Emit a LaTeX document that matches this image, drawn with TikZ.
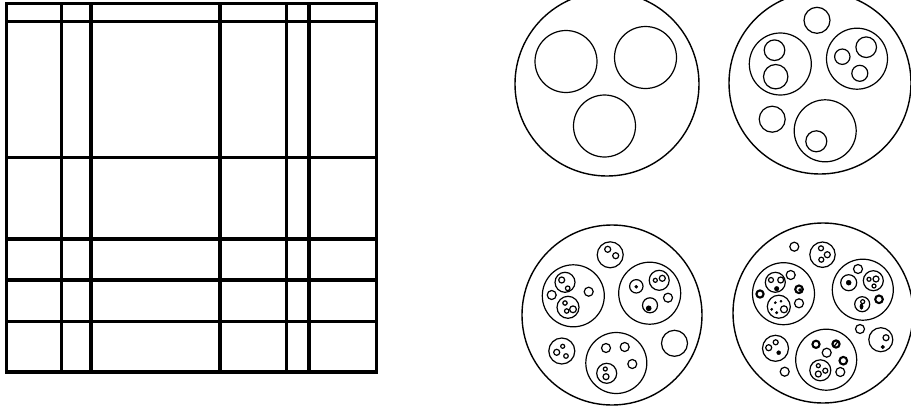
\documentclass[tikz,border=0pt]{standalone}
\begin{document}
\begin{tikzpicture}[x=1pt,y=-1pt,
  gridline/.style={line width=3.3pt,line cap=rect},
  big/.style={line width=1.4pt},
  ring/.style={line width=1.2pt},
  thickring/.style={line width=2.1pt},
  dot/.style={fill=black}]
\useasboundingbox (0,0) rectangle (911,407);
\fill[white] (0,0) rectangle (911,407);
\clip (0,0) rectangle (911,407);
% ---- grid ----
\draw[gridline] (6.7,3.3) rectangle (376.7,372);
\foreach \xx in {61.7,91,220,286.7,309}
  \draw[gridline] (\xx,3.3) -- (\xx,372);
\foreach \yy in {21.7,157.7,239,280,321.7}
  \draw[gridline] (6.7,\yy) -- (376.7,\yy);
% ---- circle 1 (top left) ----
\draw[big] (607,84) circle (92);
\draw[ring] (566,61.5) circle (31);
\draw[ring] (645.5,57.5) circle (31);
\draw[ring] (604.5,126) circle (31);
% ---- circle 2 (top right) ----
\draw[big] (820,83) circle (91);
\draw[ring] (817,20.3) circle (13);
\draw[ring] (780.3,64) circle (31);
\draw[ring] (774.5,50.2) circle (10.3);
\draw[ring] (775.7,76.7) circle (12.2);
\draw[ring] (857,58.7) circle (30.5);
\draw[ring] (842.3,56.7) circle (7.7);
\draw[ring] (866.2,47.2) circle (10.3);
\draw[ring] (859.8,73.3) circle (8);
\draw[ring] (772.2,119.2) circle (13);
\draw[ring] (825.2,130.8) circle (31);
\draw[ring] (816.3,141.3) circle (10.5);
% ---- circle 3 (bottom left) ----
\draw[big] (612,315) circle (90);
\draw[ring] (610.2,254.8) circle (13);
\draw[ring] (607.7,249.3) circle (3);
\draw[ring] (615.7,255.7) circle (3);
\draw[ring] (573.3,295.8) circle (31);
\draw[ring] (565,282.3) circle (10);
\draw[ring] (561.7,280) circle (3);
\draw[ring] (567.7,288.3) circle (2.3);
\draw[ring] (568,307.3) circle (11);
\draw[ring] (565,303) circle (2.2);
\draw[ring] (566.7,311) circle (2.2);
\draw[ring] (573,309.3) circle (3.4);
\draw[ring] (551.7,295) circle (4.5);
\draw[ring] (588.7,291.7) circle (4.5);
\draw[ring] (649.7,293.2) circle (31);
\draw[ring] (636.3,286.3) circle (6.7);
\draw[dot] (636.3,286.7) circle (1.6);
\draw[ring] (659.2,280.3) circle (10);
\draw[ring] (655.3,280.3) circle (2);
\draw[ring] (662.3,278.3) circle (3);
\draw[ring] (650,305.3) circle (7.5);
\draw[ring,dot] (648.7,308.3) circle (2.2);
\draw[ring] (668,297.7) circle (4.5);
\draw[ring] (561.8,351) circle (13);
\draw[ring] (562.7,346.3) circle (2);
\draw[ring] (556.7,352.3) circle (3);
\draw[ring] (566,356) circle (2.3);
\draw[ring] (674.5,343.3) circle (13);
\draw[ring] (616.3,363) circle (30.5);
\draw[ring] (606,348) circle (4.5);
\draw[ring] (624.7,347) circle (4.5);
\draw[ring] (632.3,364) circle (4.5);
\draw[ring] (606.7,373.3) circle (10);
\draw[ring] (605.3,369) circle (2);
\draw[ring] (606,376.7) circle (3);
% ---- circle 4 (bottom right) ----
\draw[big] (823,313) circle (90);
\draw[ring] (794.3,246.7) circle (4.5);
\draw[ring] (822.5,254.7) circle (12.7);
\draw[ring] (821,248.3) circle (2.5);
\draw[ring] (827.3,254.7) circle (3);
\draw[ring] (821.3,259.7) circle (2.5);
\draw[ring] (783.5,293.7) circle (31);
\draw[ring] (775.3,282.3) circle (10);
\draw[ring] (771,280) circle (2.5);
\draw[ring] (780.7,280) circle (3);
\draw[dot] (776.7,288.7) circle (2.3);
\draw[ring] (778.8,306.7) circle (11.5);
\draw[dot] (775.3,302.7) circle (1.2);
\draw[dot] (781,301.3) circle (1.1);
\draw[dot] (776.7,312.7) circle (1.3);
\draw[dot] (771.7,309.3) circle (1.2);
\draw[ring] (784,309.3) circle (3.5);
\draw[thickring] (760,294) circle (3.6);
\draw[ring] (790.7,275) circle (4.5);
\draw[thickring] (799,289.3) circle (3.8);
\draw[dot] (800,290) circle (1.5);
\draw[ring] (799,303.3) circle (4.5);
\draw[ring] (862.8,289.7) circle (30.5);
\draw[ring] (858,269) circle (4.5);
\draw[ring] (848.7,282.7) circle (8);
\draw[dot] (848.7,282.7) circle (2.5);
\draw[ring] (873.3,280.7) circle (10);
\draw[ring] (869,279.3) circle (2);
\draw[ring] (876,279) circle (3);
\draw[ring] (874,286) circle (2);
\draw[thickring] (879,299.3) circle (3.8);
\draw[ring] (862.2,304.2) circle (7.5);
\draw[ring] (862.7,301.7) circle (2);
\draw[dot] (861.5,306.5) ellipse (1.6 and 2.8);
\draw[ring] (860,329) circle (4.5);
\draw[ring] (880.8,339.7) circle (12);
\draw[ring] (886,337.7) circle (3);
\draw[dot] (882.7,347) circle (1.8);
\draw[ring] (775.5,348.3) circle (13);
\draw[ring] (768.7,347.7) circle (3);
\draw[ring] (775.7,342.3) circle (2.5);
\draw[dot] (778.7,352.7) circle (2);
\draw[ring] (784.7,371.7) circle (4.5);
\draw[ring] (826.2,359.7) circle (30.5);
\draw[thickring] (816,344.3) circle (3.6);
\draw[thickring] (836,344) circle (3.6);
\draw[line width=1.2pt] (834,346.5) -- (838,341.5);
\draw[ring] (826.7,352.7) circle (4.5);
\draw[thickring] (843.3,360.7) circle (3.8);
\draw[ring] (840.3,372) circle (4.5);
\draw[ring] (820.3,370.3) circle (10.5);
\draw[ring] (818.3,365.7) circle (2);
\draw[ring] (825.3,370.7) circle (2.5);
\draw[ring] (818.3,374) circle (3);
\end{tikzpicture}
\end{document}
